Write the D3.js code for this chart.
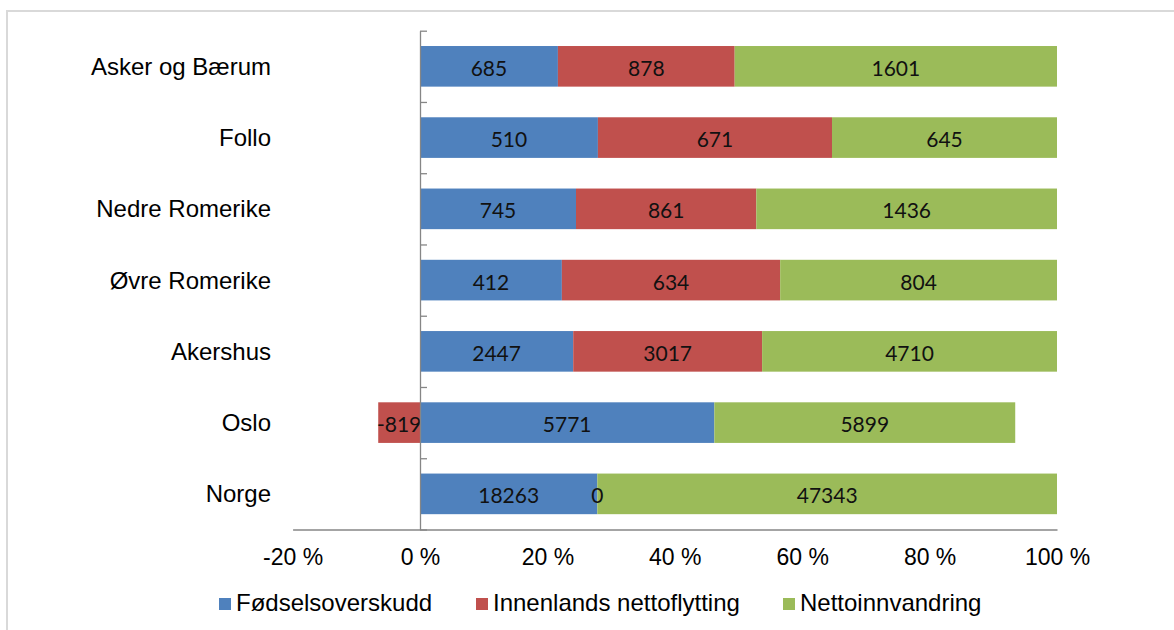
<!DOCTYPE html>
<html>
<head>
<meta charset="utf-8">
<title>Befolkningsvekst</title>
<script src="https://d3js.org/d3.v7.min.js"></script>
<style>
  body { margin: 0; background: #fff; }
  .cat text, .xaxis text, .legend text { font-family: "Liberation Sans", Arial, sans-serif; fill: #000; }
  .lbl { font-family: Lato, "Open Sans", sans-serif; font-size: 21px; fill: #111; }
</style>
</head>
<body>
<script>
var categories = ["Asker og Bærum", "Follo", "Nedre Romerike", "Øvre Romerike", "Akershus", "Oslo", "Norge"];
var fodsel = [685, 510, 745, 412, 2447, 5771, 18263];
var innenlands = [878, 671, 861, 634, 3017, -819, 0];
var innvandring = [1601, 645, 1436, 804, 4710, 5899, 47343];
var seriesNames = ["Fødselsoverskudd", "Innenlands nettoflytting", "Nettoinnvandring"];
var seriesColors = ["#4F81BD", "#C0504D", "#9BBB59"];
var xTicks = [-0.2, 0, 0.2, 0.4, 0.6, 0.8, 1];

var W = 1174, H = 630;
var axisCol = "#868686";

var svg = d3.select("body").append("svg").attr("width", W).attr("height", H);

// outer frame
svg.append("rect")
  .attr("x", 7).attr("y", 11).attr("width", W + 20).attr("height", H + 20)
  .attr("fill", "none").attr("stroke", "#d9d9d9").attr("stroke-width", 2);

var x = d3.scaleLinear().domain([-0.2, 1]).range([292.6, 1057]);
var y = d3.scaleBand().domain(categories).range([30.7, 529.5]).paddingInner(0.43).paddingOuter(0.215);

// stack like Excel 100 %: share of the absolute sum, negatives to the left of zero
var values = [fodsel, innenlands, innvandring];
var segs = [];
categories.forEach(function(c, i) {
  var tot = d3.sum(values, function(v) { return Math.abs(v[i]); });
  var pos = 0, neg = 0;
  values.forEach(function(v, s) {
    var p = v[i] / tot, x0, x1;
    if (p < 0) { x1 = neg; neg += p; x0 = neg; }
    else { x0 = pos; pos += p; x1 = pos; }
    segs.push({cat: c, s: s, val: v[i], x0: x0, x1: x1});
  });
});

svg.append("g").selectAll("rect").data(segs).enter().append("rect")
  .attr("x", function(d) { return x(d.x0); })
  .attr("width", function(d) { return x(d.x1) - x(d.x0); })
  .attr("y", function(d) { return y(d.cat); })
  .attr("height", y.bandwidth())
  .attr("fill", function(d) { return seriesColors[d.s]; });

svg.append("g").selectAll("text").data(segs).enter().append("text")
  .attr("class", "lbl")
  .attr("text-anchor", "middle")
  .attr("x", function(d) { return x((d.x0 + d.x1) / 2); })
  .attr("y", function(d) { return y(d.cat) + y.bandwidth() / 2 + 9.5; })
  .text(function(d) { return d.val; });

// x axis
var xa = svg.append("g").attr("class", "xaxis")
  .attr("transform", "translate(0," + 529.5 + ")")
  .call(d3.axisBottom(x).tickValues(xTicks).tickSize(0).tickSizeOuter(0).tickPadding(19)
    .tickFormat(function(d) { return Math.round(d * 100) + " %"; }));
xa.select(".domain").attr("stroke", axisCol).attr("stroke-width", 1.3);
xa.selectAll("text").style("font-size", "23px");

// vertical axis with ticks at category boundaries
var yb = d3.scaleLinear().domain([0, categories.length]).range([30.7, 529.5]);
var ya = svg.append("g").attr("transform", "translate(" + x(0) + ",0)")
  .call(d3.axisRight(yb).ticks(categories.length).tickSize(7).tickSizeOuter(0).tickFormat(""));
ya.select(".domain").attr("stroke", axisCol).attr("stroke-width", 1.3);
ya.selectAll(".tick line").attr("stroke", axisCol).attr("stroke-width", 1.3);

// category labels
var ca = svg.append("g").attr("class", "cat").attr("transform", "translate(271,0)")
  .call(d3.axisLeft(y).tickSize(0).tickPadding(0));
ca.select(".domain").remove();
ca.selectAll("text").style("font-size", "24px").attr("dy", null).attr("y", 8.6);

// legend
var legX = [219, 476, 783];
var leg = svg.append("g").attr("class", "legend");
seriesNames.forEach(function(n, i) {
  leg.append("rect").attr("x", legX[i]).attr("y", 598).attr("width", 12).attr("height", 12)
    .attr("fill", seriesColors[i]);
  leg.append("text").attr("x", legX[i] + 17).attr("y", 610.5).style("font-size", "24px").text(n);
});
</script>
</body>
</html>
